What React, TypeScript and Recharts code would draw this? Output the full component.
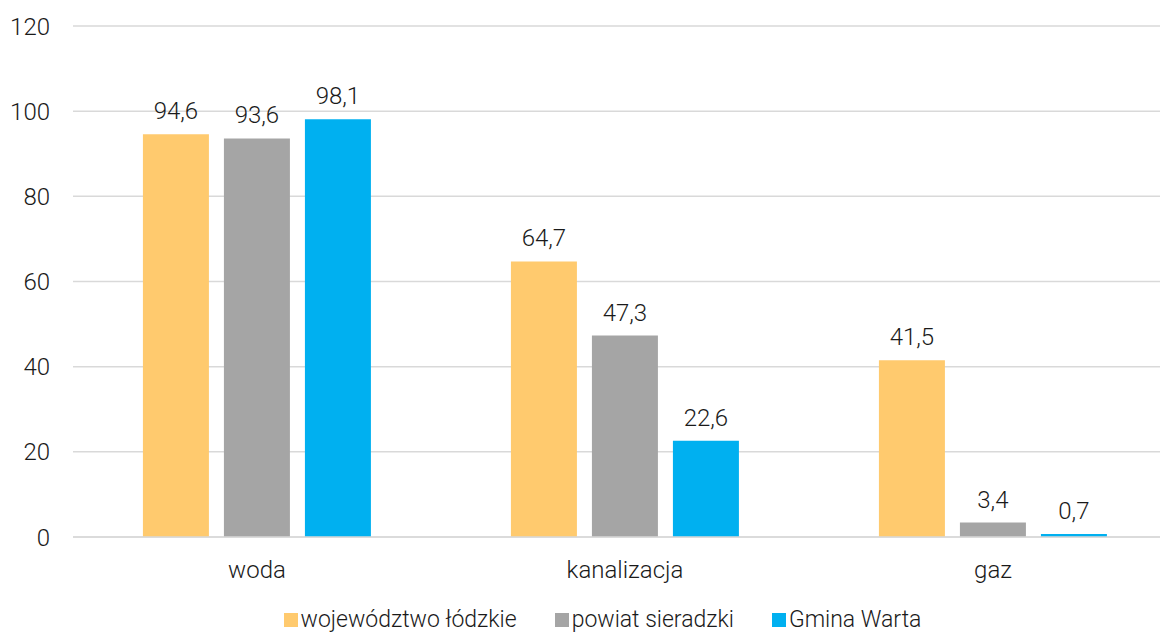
import { BarChart, Bar, XAxis, YAxis, CartesianGrid, Legend, LabelList } from "recharts";

// categories and series
const categories = ["woda", "kanalizacja", "gaz"];
const wojewodztwo = [94.6, 64.7, 41.5];
const powiat = [93.6, 47.3, 3.4];
const gmina = [98.1, 22.6, 0.7];
const yTicks = [0, 20, 40, 60, 80, 100, 120];

const series = [
  { key: "woj", name: "województwo łódzkie", color: "#FFCA6E", values: wojewodztwo },
  { key: "pow", name: "powiat sieradzki", color: "#A5A5A5", values: powiat },
  { key: "gm", name: "Gmina Warta", color: "#00B0F0", values: gmina },
];

const data = categories.map((name, i) => {
  const row: Record<string, string | number> = { name };
  series.forEach((s) => {
    row[s.key] = s.values[i];
  });
  return row;
});

const FONT = "Roboto, 'Liberation Sans', Arial, sans-serif";
const textStyle = { fontFamily: FONT, fontSize: 24, fontWeight: 300, fill: "#1a1a1a" };
const fmt = (v: unknown) => String(v).replace(".", ",");

const LegendContent = () => (
  <div
    style={{
      display: "flex",
      justifyContent: "center",
      gap: 38,
      fontFamily: FONT,
      fontSize: 23,
      fontWeight: 300,
      color: "#1a1a1a",
      paddingLeft: 28,
      lineHeight: "26px",
    }}
  >
    {series.map((s) => (
      <span key={s.key} style={{ display: "flex", alignItems: "center" }}>
        <span style={{ width: 14, height: 14, background: s.color, marginRight: 3 }} />
        {s.name}
      </span>
    ))}
  </div>
);

export default function App() {
  return (
    <div
      style={{
        position: "absolute",
        left: 0,
        top: 0,
        width: 1160,
        height: 633,
        overflow: "hidden",
        background: "#fff",
      }}
    >
      <BarChart
        width={1177}
        height={633}
        data={data}
        margin={{ top: 26, right: 0, left: 0, bottom: 0 }}
        barCategoryGap="19%"
        barGap={15}
      >
        <CartesianGrid vertical={false} stroke="#D9D9D9" strokeWidth={1.5} />
        <XAxis
          dataKey="name"
          axisLine={{ stroke: "#D9D9D9", strokeWidth: 1.5 }}
          tickLine={false}
          tickSize={0}
          tickMargin={24}
          height={70}
          tick={textStyle}
        />
        <YAxis
          domain={[0, 120]}
          ticks={yTicks}
          axisLine={false}
          tickLine={false}
          tickSize={0}
          tickMargin={23}
          width={73}
          tick={textStyle}
        />
        <Legend verticalAlign="bottom" height={26} content={<LegendContent />} />
        {series.map((s) => (
          <Bar key={s.key} dataKey={s.key} name={s.name} fill={s.color} isAnimationActive={false}>
            <LabelList
              dataKey={s.key}
              position="top"
              offset={15}
              formatter={fmt}
              style={textStyle}
            />
          </Bar>
        ))}
      </BarChart>
    </div>
  );
}
